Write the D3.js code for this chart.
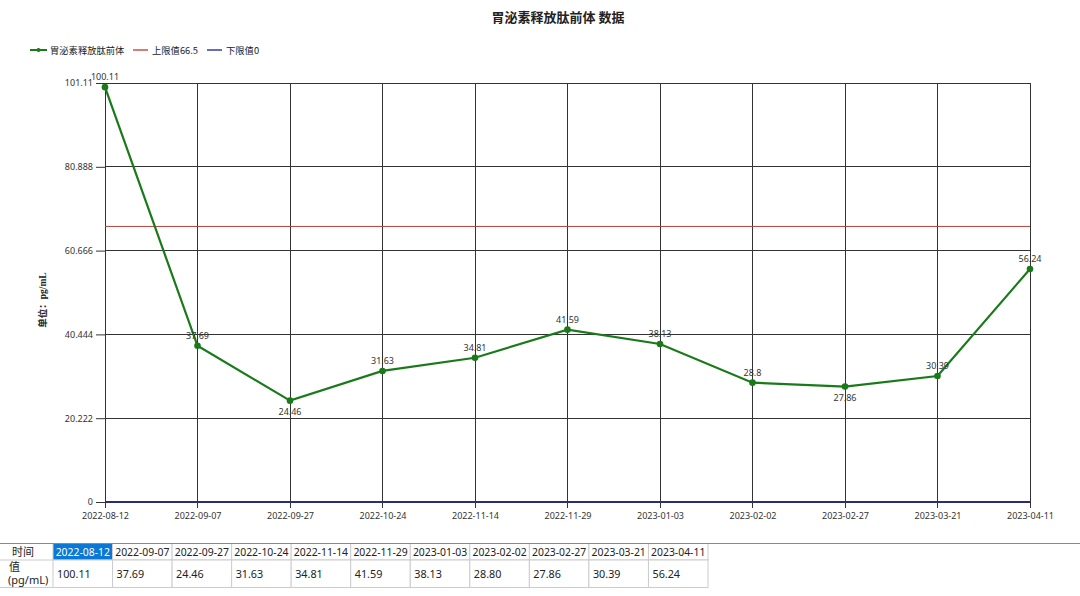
<!DOCTYPE html>
<html><head><meta charset="utf-8">
<script src="https://cdn.jsdelivr.net/npm/d3@7"></script>
<style>
html,body{margin:0;padding:0;background:#fff;}
svg{display:block;font-family:"Noto Sans CJK SC","Noto Sans",sans-serif;}
</style></head>
<body>
<svg id="c" width="1080" height="596"></svg>
<script>
const title = "胃泌素释放肽前体 数据";
const seriesName = "胃泌素释放肽前体";
const upperName = "上限值66.5";
const lowerName = "下限值0";
const yTitle = "单位：pg/mL";
const dates = ["2022-08-12","2022-09-07","2022-09-27","2022-10-24","2022-11-14","2022-11-29","2023-01-03","2023-02-02","2023-02-27","2023-03-21","2023-04-11"];
const values = [100.11,37.69,24.46,31.63,34.81,41.59,38.13,28.8,27.86,30.39,56.24];
const tableValues = ["100.11","37.69","24.46","31.63","34.81","41.59","38.13","28.80","27.86","30.39","56.24"];
const yTicks = [0,20.222,40.444,60.666,80.888,101.11];
const yTickLabels = ["0","20.222","40.444","60.666","80.888","101.11"];
const upperLimit = [66.5];
const lowerLimit = [0];
const tableRowLabels = ["时间","值","(pg/mL)"];

const svg = d3.select("#c");
const L = 105, R = 1030, T = 83, B = 502;
const x = d3.scalePoint().domain(dates).range([L, R]);
const y = d3.scaleLinear().domain([0, 101.11]).range([B, T]);

// title
svg.append("text").attr("x", 558).attr("y", 22).attr("text-anchor","middle")
  .attr("font-size", 13).attr("font-weight","bold").attr("fill","#222").text(title);

// legend
const lg = svg.append("g").attr("font-size", 9.3).attr("fill","#222");
lg.append("line").attr("x1",30).attr("x2",47).attr("y1",50).attr("y2",50).attr("stroke","#1a7a1a").attr("stroke-width",2);
lg.append("circle").attr("cx",38.5).attr("cy",50).attr("r",2).attr("fill","#1a7a1a");
lg.append("text").attr("x",50).attr("y",53.5).text(seriesName);
lg.append("line").attr("x1",133).attr("x2",148).attr("y1",50).attr("y2",50).attr("stroke","#c0392b").attr("stroke-width",1.3);
lg.append("text").attr("x",152).attr("y",53.5).text(upperName);
lg.append("line").attr("x1",207).attr("x2",222).attr("y1",50).attr("y2",50).attr("stroke","#1a1aa0").attr("stroke-width",1.3);
lg.append("text").attr("x",226).attr("y",53.5).text(lowerName);

// grid
const g = svg.append("g");
g.selectAll("line.h").data(yTicks).join("line").attr("class","h")
  .attr("x1",L).attr("x2",R).attr("y1",d=>y(d)).attr("y2",d=>y(d))
  .attr("stroke","#333").attr("stroke-width",1).attr("shape-rendering","crispEdges");
g.selectAll("line.v").data(dates).join("line").attr("class","v")
  .attr("x1",d=>x(d)).attr("x2",d=>x(d)).attr("y1",T).attr("y2",B+6)
  .attr("stroke","#333").attr("stroke-width",1).attr("shape-rendering","crispEdges");

// y axis
const ya = svg.append("g").attr("transform",`translate(${L},0)`)
  .call(d3.axisLeft(y).tickValues(yTicks).tickSize(9).tickPadding(3).tickFormat((d,i)=>yTickLabels[i]));
ya.select(".domain").attr("stroke","#333");
ya.selectAll(".tick line").attr("stroke","#333");
ya.selectAll("text").attr("font-size",9).attr("fill","#333").attr("font-family","'Noto Sans','DejaVu Sans',sans-serif");

// x axis labels
const xa = svg.append("g").attr("transform",`translate(0,${B})`)
  .call(d3.axisBottom(x).tickSize(0).tickPadding(11));
xa.select(".domain").remove();
xa.selectAll("text").attr("font-size",9).attr("fill","#333").attr("font-family","'Noto Sans','DejaVu Sans',sans-serif");

// y title
const yt = svg.append("text").attr("transform","translate(46,300) rotate(-90)")
  .attr("text-anchor","middle").attr("font-size",9.5).attr("font-weight","bold").attr("fill","#222");
yt.append("tspan").text("单位：");
yt.append("tspan").attr("font-family","'Liberation Serif',serif").text("pg/mL");

// limit lines
svg.selectAll("line.up").data(upperLimit).join("line").attr("class","up")
  .attr("x1",L).attr("x2",R).attr("y1",d=>y(d)).attr("y2",d=>y(d))
  .attr("stroke","#b5413a").attr("stroke-width",1);
svg.selectAll("line.lo").data(lowerLimit).join("line").attr("class","lo")
  .attr("x1",L).attr("x2",R).attr("y1",d=>y(d)).attr("y2",d=>y(d))
  .attr("stroke","#2a2a80").attr("stroke-width",2);

// series
const pts = dates.map((d,i)=>({d, v: values[i], i}));
svg.append("path").datum(pts)
  .attr("d", d3.line().x(p=>x(p.d)).y(p=>y(p.v)))
  .attr("fill","none").attr("stroke","#1a7a1a").attr("stroke-width",2.2);
svg.selectAll("circle.pt").data(pts).join("circle").attr("class","pt")
  .attr("cx",p=>x(p.d)).attr("cy",p=>y(p.v)).attr("r",3.3).attr("fill","#1a7a1a");
const isMin = p => p.i>0 && p.i<values.length-1 && p.v<values[p.i-1] && p.v<values[p.i+1] && p.i!==7;
svg.selectAll("text.lbl").data(pts).join("text").attr("class","lbl")
  .attr("x",p=>x(p.d)).attr("y",p=>isMin(p)? y(p.v)+14 : y(p.v)-7)
  .attr("text-anchor","middle").attr("font-size",9).attr("fill","#333")
  .attr("font-family","'Noto Sans','DejaVu Sans',sans-serif")
  .text(p=>String(p.v));

// table
const tb = svg.append("g").attr("font-family","'Noto Sans','Noto Sans CJK SC',sans-serif");
const c0 = 53, cw = (708-53)/11, r0 = 543.5, r1 = 560, r2 = 587.5;
const col = d3.scaleBand().domain(dates).range([c0, c0+cw*11]);
tb.selectAll("rect.hd").data(dates).join("rect").attr("class","hd")
  .attr("x",d=>col(d)).attr("y",r0).attr("width",cw).attr("height",r1-r0)
  .attr("fill",(d,i)=>i===0?"#0a78d4":"#fff").attr("stroke","#ccc").attr("stroke-width",1);
tb.selectAll("rect.vl").data(dates).join("rect").attr("class","vl")
  .attr("x",d=>col(d)).attr("y",r1).attr("width",cw).attr("height",r2-r1)
  .attr("fill","#fff").attr("stroke","#ccc").attr("stroke-width",1);
tb.append("line").attr("x1",0).attr("x2",c0).attr("y1",r1).attr("y2",r1).attr("stroke","#ccc");
tb.append("line").attr("x1",0).attr("x2",c0).attr("y1",r2).attr("y2",r2).attr("stroke","#ccc");
tb.append("line").attr("x1",0).attr("x2",1080).attr("y1",543.5).attr("y2",543.5).attr("stroke","#888").attr("stroke-width",1.2);
tb.selectAll("text.hd").data(dates).join("text").attr("class","hd")
  .attr("x",d=>col(d)+cw/2).attr("y",r1-4).attr("font-size",10.4).attr("text-anchor","middle")
  .attr("fill",(d,i)=>i===0?"#fff":"#222").text(d=>d);
tb.selectAll("text.vl").data(tableValues).join("text").attr("class","vl")
  .attr("x",(d,i)=>col(dates[i])+4).attr("y",578).attr("font-size",10.8)
  .attr("fill","#222").text(d=>d);
tb.append("text").attr("x",12).attr("y",556).attr("font-size",11).attr("fill","#222").text(tableRowLabels[0]);
tb.append("text").attr("x",9).attr("y",571).attr("font-size",11).attr("fill","#222").text(tableRowLabels[1]);
tb.append("text").attr("x",8).attr("y",584).attr("font-size",11).attr("fill","#222").text(tableRowLabels[2]);
</script>
</body></html>
